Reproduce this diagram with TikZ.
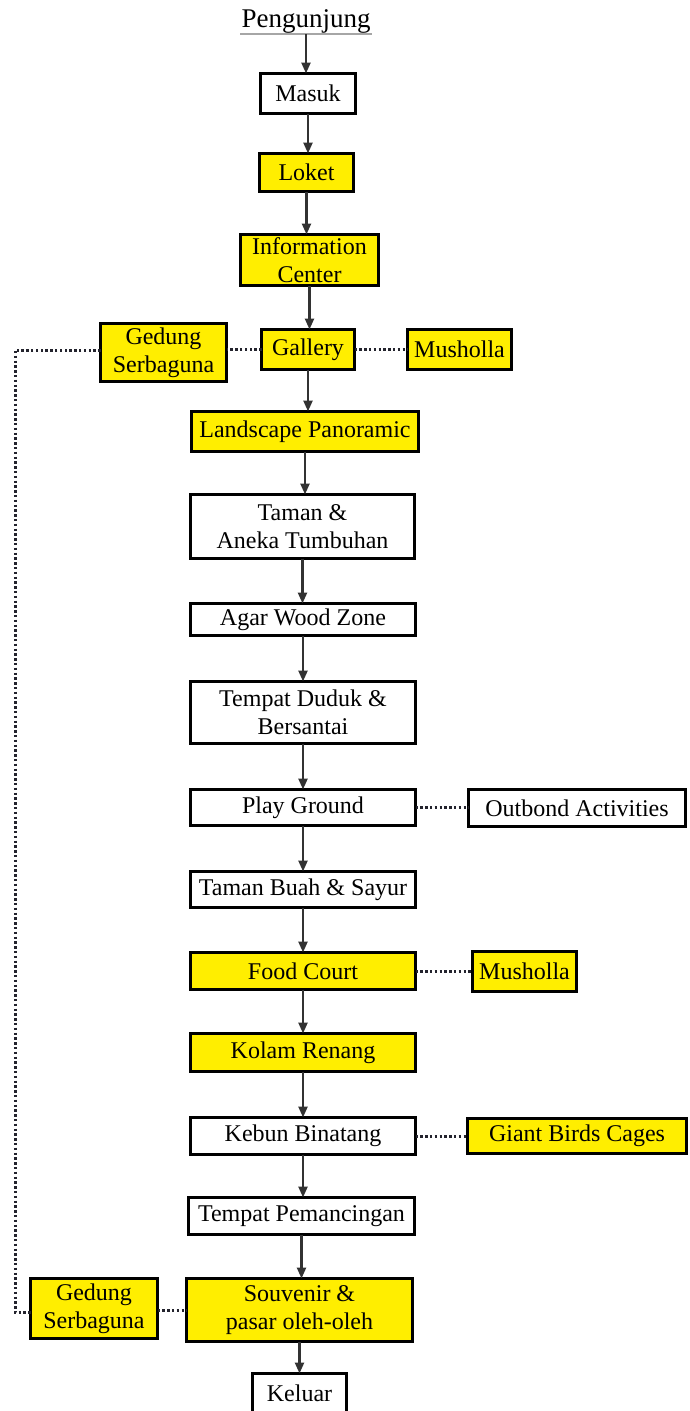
\documentclass[tikz,border=0pt]{standalone}
\usepackage{fontspec}
\setmainfont{Liberation Serif}
\usetikzlibrary{arrows.meta}
\definecolor{boxyellow}{RGB}{255,238,0}
\definecolor{arrowgray}{RGB}{50,50,50}
\definecolor{dotgray}{RGB}{35,35,45}
\begin{document}
\begin{tikzpicture}[x=1pt,y=-1pt,
  base/.style={draw=black, line width=3pt, inner sep=0pt, outer sep=0pt, align=center,
    font=\fontsize{24}{28}\selectfont, text=black},
  wbox/.style={base, fill=white},
  ybox/.style={base, fill=boxyellow},
  sz/.style 2 args={minimum width=#1pt-3pt, minimum height=#2pt-3pt},
  flow/.style={draw=arrowgray, line width=2.4pt, -{Triangle[length=11pt,width=9pt]}},
  dotline/.style={draw=dotgray, line width=3pt, dash pattern=on 2.4pt off 2.4pt}
]
\useasboundingbox (0,0) rectangle (689,1411);

\node[inner sep=1pt, font=\fontsize{27}{30}\selectfont] (peng) at (306,21) {Pengunjung};
\draw[gray!70, line width=1.5pt] (peng.south west) -- (peng.south east);

\node[wbox, sz={98}{43}]  (masuk)   at (308,93.5)   {Masuk};
\node[ybox, sz={97}{41}]  (loket)   at (306.5,172.5) {Loket};
\node[ybox, sz={141}{54}] (info)    at (309.5,260)  {Information\\Center};
\node[ybox, sz={96}{43}]  (gallery) at (308,349.5)  {Gallery};
\node[ybox, sz={129}{61}] (gedungA) at (163.5,352.5) {Gedung\\Serbaguna};
\node[ybox, sz={107}{43}] (mushA)   at (459.5,349.5) {Musholla};
\node[ybox, sz={230}{43}] (land)    at (305,431.5)  {Landscape Panoramic};
\node[wbox, sz={227}{67}] (taman)   at (302.5,526.5) {Taman \&\\Aneka Tumbuhan};
\node[wbox, sz={228}{35}] (agar)    at (303,619.5)  {Agar Wood Zone};
\node[wbox, sz={228}{65}] (duduk)   at (303,712.5)  {Tempat Duduk \&\\Bersantai};
\node[wbox, sz={228}{39}] (play)    at (303,807.5)  {Play Ground};
\node[wbox, sz={220}{40}] (outbond) at (577,808)    {Outbond Activities};
\node[wbox, sz={228}{39}] (buah)    at (303,889.5)  {Taman Buah \& Sayur};
\node[ybox, sz={228}{40}] (food)    at (303,971)    {Food Court};
\node[ybox, sz={107}{43}] (mushB)   at (524.5,971.5) {Musholla};
\node[ybox, sz={228}{41}] (kolam)   at (303,1052.5) {Kolam Renang};
\node[wbox, sz={228}{40}] (kebun)   at (303,1136)   {Kebun Binatang};
\node[ybox, sz={222}{38}] (giant)   at (577,1136)   {Giant Birds Cages};
\node[wbox, sz={229}{40}] (pancing) at (301.5,1216) {Tempat Pemancingan};
\node[ybox, sz={229}{66}] (souv)    at (299.5,1310) {Souvenir \&\\pasar oleh-oleh};
\node[ybox, sz={130}{63}] (gedungB) at (94,1308.5)  {Gedung\\Serbaguna};
\node[wbox, sz={97}{42}]  (keluar)  at (299.5,1393) {Keluar};

\coordinate (lt) at (15,350);
\coordinate (lb) at (15,1312);

\draw[flow] (peng.south) -- (peng.south |- masuk.north);
\draw[flow] (masuk.south) -- (masuk.south |- loket.north);
\draw[flow] (loket.south) -- (loket.south |- info.north);
\draw[flow] (info.south) -- (info.south |- gallery.north);
\draw[flow] (gallery.south) -- (gallery.south |- land.north);
\draw[flow] (land.south) -- (land.south |- taman.north);
\draw[flow] (taman.south) -- (taman.south |- agar.north);
\draw[flow] (agar.south) -- (agar.south |- duduk.north);
\draw[flow] (duduk.south) -- (duduk.south |- play.north);
\draw[flow] (play.south) -- (play.south |- buah.north);
\draw[flow] (buah.south) -- (buah.south |- food.north);
\draw[flow] (food.south) -- (food.south |- kolam.north);
\draw[flow] (kolam.south) -- (kolam.south |- kebun.north);
\draw[flow] (kebun.south) -- (kebun.south |- pancing.north);
\draw[flow] (pancing.south) -- (pancing.south |- souv.north);
\draw[flow] (souv.south) -- (souv.south |- keluar.north);

\draw[dotline] (gallery.west) -- (gallery.west -| gedungA.east);
\draw[dotline] (gallery.east) -- (gallery.east -| mushA.west);
\draw[dotline] (gedungA.west |- lt) -- (lt) -- (lb) -- (lb -| gedungB.west);
\draw[dotline] (gedungB.east |- souv.west) -- (souv.west);
\draw[dotline] (play.east) -- (play.east -| outbond.west);
\draw[dotline] (food.east) -- (food.east -| mushB.west);
\draw[dotline] (kebun.east) -- (kebun.east -| giant.west);
\end{tikzpicture}
\end{document}
